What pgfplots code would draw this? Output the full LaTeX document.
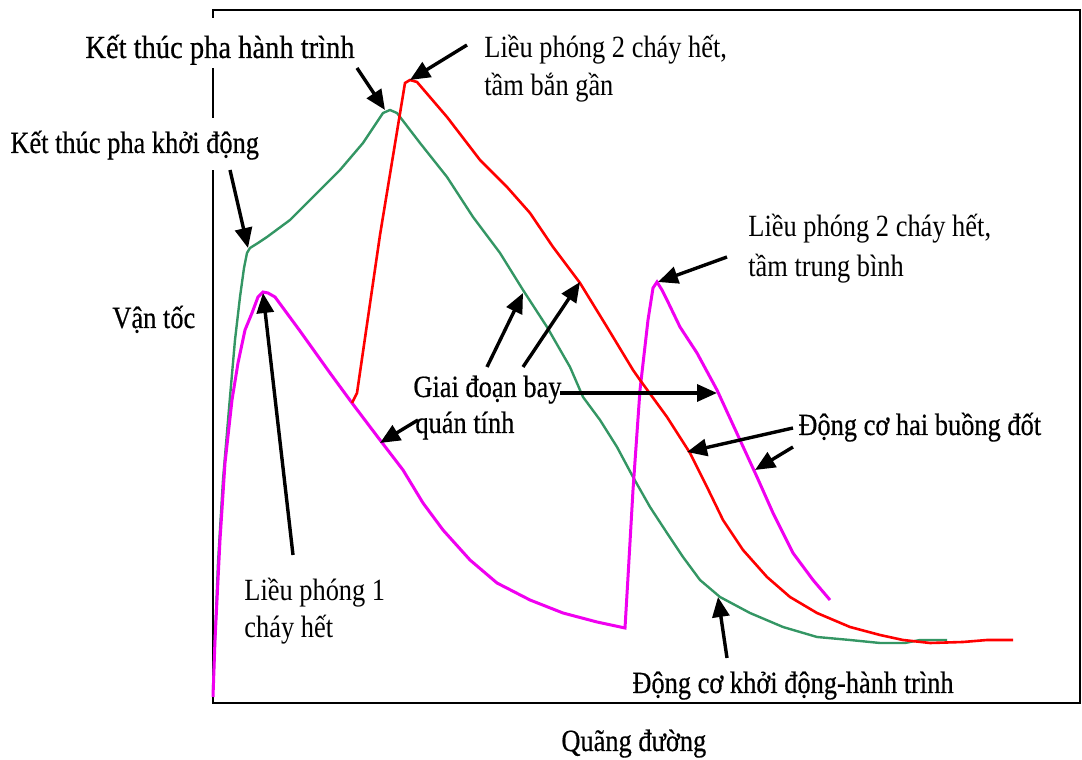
\documentclass[border=0pt]{standalone}
\usepackage{fontspec}
\setmainfont{Liberation Serif}
\newfontfamily\heavy{Liberation Serif}[FakeBold=0.5]
\usepackage{pgfplots}
\pgfplotsset{compat=1.18}
\usetikzlibrary{arrows.meta}
\definecolor{cgreen}{RGB}{52,150,100}
\definecolor{cmag}{RGB}{240,0,240}
\definecolor{cred}{RGB}{255,0,0}
\newcommand{\T}[1]{\scalebox{1}[1.17]{#1}}
\newcommand{\fsz}{\fontsize{13.2}{15}\selectfont}

\begin{document}
\begin{tikzpicture}
\path[use as bounding box] (0,0) rectangle (541pt,380pt);
\begin{axis}[at={(106.5pt,28.5pt)}, anchor=south west,
  width=433.5pt, height=346.5pt, scale only axis,
  xmin=0, xmax=867, ymin=0, ymax=693,
  xtick=\empty, ytick=\empty,
  axis line style={line width=1.1pt, black},
  clip=false]
% Dong co khoi dong - hanh trinh
\addplot[cgreen, line width=1.2pt] coordinates {
(0,13) (5,140) (10,223) (17,306) (22,363) (27,406) (31,435) (34,450) (37,455)
(45,460) (54,466) (77,483) (104,510) (127,533) (150,560) (170,590) (177,593)
(184,590) (207,560) (234,526) (260,486) (287,450) (310,413) (334,376) (357,336)
(370,306) (387,283) (404,256) (420,226) (437,196) (454,170) (470,146) (487,123)
(507,106) (537,90) (570,76) (604,66) (637,63) (667,60) (692,60) (707,63) (734,63)};
% Dong co hai buong dot, tam trung binh
\addplot[cmag, line width=1.5pt] coordinates {
(0,6) (2,63) (7,163) (12,240) (19,303) (25,340) (32,373) (39,390) (45,406)
(50,411) (55,410) (62,406) (87,372) (117,330) (139,300) (167,263) (190,233)
(210,200) (230,173) (257,143) (284,120) (317,103) (350,90) (384,81) (412,75)
(415,126) (420,213) (427,313) (435,383) (440,415) (444,421) (449,413) (454,403)
(467,376) (484,350) (504,313) (527,263) (544,226) (560,190) (580,150) (600,123) (617,103)};
% Dong co hai buong dot, tam ban gan
\addplot[cred, line width=1.3pt] coordinates {
(139,300) (144,310) (167,468) (192,620) (197,623) (204,621) (234,586) (267,543)
(294,516) (317,490) (340,456) (367,420) (394,376) (420,333) (427,323) (454,286)
(477,250) (494,216) (510,183) (530,153) (554,126) (577,106) (604,90) (637,76)
(667,68) (690,63) (717,60) (750,61) (774,63) (800,63)};
\end{axis}
\begin{scope}[x=0.5pt, y=-0.5pt, shift={(0,380pt)}]
  \fill[white] (80,18) rectangle (358,68);
  \fill[white] (4,118) rectangle (262,170);
  \tikzset{lbl/.style={anchor=base west, inner sep=0pt, font=\fsz}}
  \node[lbl] at (85,58) {\scalebox{1.08}[1.22]{\heavy Kết thúc pha hành trình}};
  \node[lbl] at (484,58) {\T{Liều phóng 2 cháy hết,}};
  \node[lbl] at (484,96) {\T{tầm bắn gần}};
  \node[lbl] at (10,153) {\T{\heavy Kết thúc pha khởi động}};
  \node[lbl] at (112,328) {\T{\heavy Vận tốc}};
  \node[lbl] at (748,237) {\T{Liều phóng 2 cháy hết,}};
  \node[lbl] at (748,277) {\T{tầm trung bình}};
  \node[lbl] at (413,397) {\T{\heavy Giai đoạn bay}};
  \node[lbl] at (415,433) {\T{\heavy quán tính}};
  \node[lbl] at (798,435) {\T{\heavy Động cơ hai buồng đốt}};
  \node[lbl] at (244,601) {\T{Liều phóng 1}};
  \node[lbl] at (244,638) {\T{cháy hết}};
  \node[lbl] at (632,693) {\T{\heavy Động cơ khởi động-hành trình}};
  \node[lbl] at (561,751) {\T{\heavy Quãng đường}};
  \tikzset{arr/.style={line width=1.7pt, black, -{Triangle[length=10pt,width=8.5pt]}}}
  \draw[arr] (230,170) -- (248,248);
  \draw[arr] (357,68) -- (385,110);
  \draw[arr] (467,45) -- (410,80);
  \draw[arr] (293,555) -- (263,293);
  \draw[arr] (487,367) -- (523,293);
  \draw[arr] (523,367) -- (580,282);
  \draw[arr] (560,393) -- (717,393);
  \draw[arr] (418,420) -- (380,443);
  \draw[arr] (727,257) -- (658,282);
  \draw[arr] (793,428) -- (687,452);
  \draw[arr] (793,447) -- (755,470);
  \draw[arr] (727,658) -- (718,597);
\end{scope}
\end{tikzpicture}
\end{document}
